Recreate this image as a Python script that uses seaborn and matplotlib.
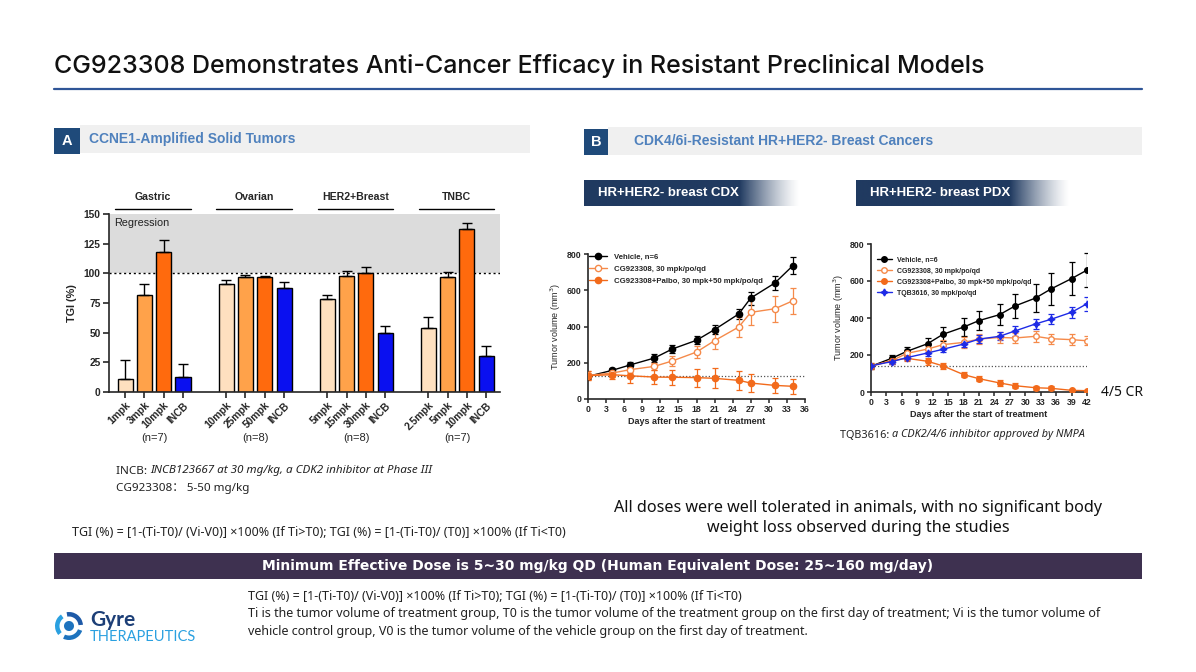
import numpy as np
import pandas as pd
import matplotlib
matplotlib.use("Agg")
import matplotlib.pyplot as plt
import seaborn as sns
from matplotlib.patches import Rectangle, Wedge

# ---------------- Panel A: TGI bars ----------------
tumor_types = ['Gastric', 'Ovarian', 'HER2+Breast', 'TNBC']
group_n = ['(n=7)', '(n=8)', '(n=8)', '(n=7)']
dose_levels = ['low', 'mid', 'high', 'INCB']

gastric_doses = ['1mpk', '3mpk', '10mpk', 'INCB']
gastric_tgi = [11, 82, 118, 13]
gastric_err = [16, 9, 10, 11]

ovarian_doses = ['10mpk', '25mpk', '50mpk', 'INCB']
ovarian_tgi = [91, 96.5, 96.5, 88]
ovarian_err = [3, 2.5, 1.5, 4.5]

her2_doses = ['5mpk', '15mpk', '30mpk', 'INCB']
her2_tgi = [78.5, 97.5, 100, 50]
her2_err = [3, 4.5, 5, 5.5]

tnbc_doses = ['2.5mpk', '5mpk', '10mpk', 'INCB']
tnbc_tgi = [54, 96.5, 137, 30]
tnbc_err = [9.5, 5, 5, 8.5]

# ---------------- Panel B: CDX ----------------
cdx_days = [0, 4, 7, 11, 14, 18, 21, 25, 27, 31, 34]
cdx_vehicle = [125, 158, 188, 226, 276, 324, 383, 469, 557, 640, 736]
cdx_vehicle_err = [15, 15, 18, 20, 20, 22, 25, 30, 36, 38, 45]
cdx_cg = [130, 143, 162, 180, 210, 259, 322, 397, 478, 498, 542]
cdx_cg_err = [25, 20, 20, 20, 30, 35, 45, 55, 72, 72, 72]
cdx_combo = [129, 134, 128, 121, 120, 118, 114, 103, 88, 75, 70]
cdx_combo_err = [25, 25, 38, 40, 40, 50, 55, 52, 50, 40, 40]
cdx_baseline = 128

# ---------------- Panel B: PDX ----------------
pdx_days = [0, 4, 7, 11, 14, 18, 21, 25, 28, 32, 35, 39, 42]
pdx_vehicle = [139, 182, 220, 261, 312, 351, 386, 418, 465, 508, 557, 613, 659]
pdx_vehicle_err = [15, 20, 25, 30, 38, 50, 52, 55, 65, 75, 85, 88, 92]
pdx_cg = [140, 169, 209, 232, 256, 268, 286, 295, 292, 301, 288, 283, 277]
pdx_cg_err = [15, 18, 20, 22, 25, 30, 28, 30, 25, 30, 28, 28, 25]
pdx_combo = [140, 169, 182, 166, 141, 94, 72, 49, 34, 23, 20, 9, 7]
pdx_combo_err = [15, 15, 15, 18, 18, 15, 15, 15, 12, 10, 10, 8, 6]
pdx_tqb = [142, 164, 186, 211, 231, 259, 286, 301, 330, 368, 393, 431, 477]
pdx_tqb_err = [12, 12, 12, 15, 15, 18, 22, 22, 25, 28, 28, 30, 38]
pdx_baseline = 138

series_labels = ['Vehicle, n=6', 'CG923308, 30 mpk/po/qd',
                 'CG923308+Palbo, 30 mpk+50 mpk/po/qd', 'TQB3616, 30 mpk/po/qd']

# ---------------- styling ----------------
W, H = 1196, 672
NAVY = '#1F4A7A'
BAR_COLORS = {'low': '#FEE0BF', 'mid': '#FFA24A', 'high': '#FF6A0D', 'INCB': '#0A10F0'}
C_VEH, C_CG, C_COMBO, C_TQB = 'black', '#F58A4A', '#F26A1B', '#1E2BE6'
CHART_FONT = 'Liberation Sans'
BODY = ['Noto Sans', 'Noto Sans CJK SC', 'DejaVu Sans']

sns.set_theme(style='ticks')
plt.rcParams['font.family'] = BODY
plt.rcParams['axes.linewidth'] = 1.2

fig = plt.figure(figsize=(W / 100, H / 100), dpi=100)
fig.patch.set_facecolor('white')

bg = fig.add_axes([0, 0, 1, 1], zorder=0)
bg.set_axis_off()


def px_axes(x0, y0, x1, y1):
    # pixel box (top-left origin) to figure fraction
    return [x0 / W, 1 - y1 / H, (x1 - x0) / W, (y1 - y0) / H]


# ---- slide decorations ----
bg.text(54, 66, 'CG923308 Demonstrates Anti-Cancer Efficacy in Resistant Preclinical Models',
        fontsize=18, family='Inter', weight='medium', color='#111111', va='center')
bg.plot([54, 1142], [89, 89], color='#2F5597', lw=1.6)

bg.add_patch(Rectangle((80, 125), 450, 28, color='#F0F0F0', lw=0))
bg.add_patch(Rectangle((54, 128), 26, 26, color=NAVY, lw=0))
bg.text(67, 141, 'A', color='white', weight='bold', fontsize=10.5, ha='center', va='center',
        family='Liberation Sans')
bg.text(89, 139, 'CCNE1-Amplified Solid Tumors', color='#4F81BD', weight='bold',
        fontsize=10, va='center', family='Liberation Sans')

bg.add_patch(Rectangle((608, 127), 534, 28, color='#F0F0F0', lw=0))
bg.add_patch(Rectangle((584, 129), 24, 26, color=NAVY, lw=0))
bg.text(596, 142, 'B', color='white', weight='bold', fontsize=10.5, ha='center', va='center',
        family='Liberation Sans')
bg.text(634, 141, 'CDK4/6i-Resistant HR+HER2- Breast Cancers', color='#4F81BD', weight='bold',
        fontsize=10, va='center', family='Liberation Sans')


def gradient_box(x0, x1, y0, y1, text):
    n = 256
    rgba = np.zeros((1, n, 4))
    rgba[..., :3] = matplotlib.colors.to_rgb('#203A60')
    alpha = np.ones(n)
    fade = np.linspace(0, 1, n) > 0.72
    alpha[fade] = np.linspace(1, 0, fade.sum()) ** 1.3
    rgba[..., 3] = alpha
    bg.imshow(rgba, extent=[x0, x1, y1, y0], aspect='auto', zorder=1)
    bg.text(x0 + 14, (y0 + y1) / 2, text, color='white', weight='bold', fontsize=9.5,
            va='center', family='Liberation Sans', zorder=2)


gradient_box(584, 800, 180, 206, 'HR+HER2- breast CDX')
gradient_box(856, 1070, 180, 206, 'HR+HER2- breast PDX')

# notes under panel A
t = bg.text(116, 471, 'INCB: ', fontsize=8.4, va='center', color='#222222')
bg.annotate('INCB123667 at 30 mg/kg, a CDK2 inhibitor at Phase III', xy=(1, 0.5), xycoords=t,
            fontsize=8.4, style='italic', va='center', color='#222222')
bg.text(116, 489, 'CG923308： 5-50 mg/kg', fontsize=8.4, va='center', color='#222222')

formula = 'TGI (%) = [1-(Ti-T0)/ (Vi-V0)] ×100% (If Ti>T0); TGI (%) = [1-(Ti-T0)/ (T0)] ×100% (If Ti<T0)'
bg.text(72, 533, formula, fontsize=9, va='center', color='#222222')

bg.text(858, 508, 'All doses were well tolerated in animals, with no significant body',
        fontsize=11.6, ha='center', va='center', color='#111111')
bg.text(858, 528, 'weight loss observed during the studies',
        fontsize=11.6, ha='center', va='center', color='#111111')

bg.add_patch(Rectangle((54, 553), 1088, 26, color='#3E3150', lw=0))
bg.text(598, 566, 'Minimum Effective Dose is 5~30 mg/kg QD (Human Equivalent Dose: 25~160 mg/day)',
        color='white', weight='bold', fontsize=10, ha='center', va='center', family='DejaVu Sans')

bg.text(248, 596, formula, fontsize=9, va='center', color='#222222')
bg.text(248, 614, 'Ti is the tumor volume of treatment group, T0 is the tumor volume of the treatment '
        'group on the first day of treatment; Vi is the tumor volume of',
        fontsize=9, va='center', color='#222222')
bg.text(248, 631, 'vehicle control group, V0 is the tumor volume of the vehicle group on the first day of treatment.',
        fontsize=9, va='center', color='#222222')

# logo
for ang, col in [(20, '#1E73BE'), (140, '#2AA0E0'), (260, '#1E5AA8')]:
    bg.add_patch(Wedge((69, 626), 14, ang, ang + 95, width=4.5, color=col, lw=0))
bg.add_patch(Wedge((69, 626), 5, 0, 360, color='#1E73BE', lw=0))
bg.text(90, 620, 'Gyre', fontsize=15, color='#1D3F77', weight='bold', va='center', family='Lato')
bg.text(90, 637, 'THERAPEUTICS', fontsize=10.5, color='#2AA0E0', va='center', family='Lato')

bg.text(1101, 392, '4/5 CR', fontsize=10, va='center', color='#111111')
t2 = bg.text(840, 435, 'TQB3616: ', fontsize=7.8, va='center', color='#222222')
bg.annotate('a CDK2/4/6 inhibitor approved by NMPA', xy=(1, 0.5), xycoords=t2,
            fontsize=7.8, style='italic', va='center', color='#222222')

bg.set_xlim(0, W)
bg.set_ylim(H, 0)

# ---------------- Panel A chart ----------------
GROUP_STEP = 5.23
groups = [(gastric_doses, gastric_tgi, gastric_err), (ovarian_doses, ovarian_tgi, ovarian_err),
          (her2_doses, her2_tgi, her2_err), (tnbc_doses, tnbc_tgi, tnbc_err)]
rows = []
for g, (doses, tgi, err) in enumerate(groups):
    for i in range(4):
        rows.append({'pos': g * GROUP_STEP + i, 'dose': doses[i], 'tgi': tgi[i],
                     'err': err[i], 'level': dose_levels[i], 'group': tumor_types[g]})
df_a = pd.DataFrame(rows)

ax_a = fig.add_axes(px_axes(109, 214, 500, 392), zorder=2)
ax_a.set_facecolor('none')
ax_a.axhspan(100, 150, color='#DCDCDC', lw=0, zorder=0)
ax_a.axhline(100, color='black', ls=(0, (1.5, 2)), lw=1, zorder=1)
sns.barplot(data=df_a, x='pos', y='tgi', hue='level', palette=BAR_COLORS, native_scale=True,
            dodge=False, width=0.78, saturation=1, edgecolor='black', linewidth=1,
            errorbar=None, legend=False, ax=ax_a, zorder=2)
ax_a.errorbar(df_a['pos'], df_a['tgi'], yerr=[np.zeros(len(df_a)), df_a['err']], fmt='none',
              ecolor='black', elinewidth=1, capsize=3.5, capthick=1, zorder=3)
ax_a.set_xlim(-0.83, 19.4)
ax_a.set_ylim(0, 150)
ax_a.set_yticks([0, 25, 50, 75, 100, 125, 150])
ax_a.set_xticks(df_a['pos'])
ax_a.set_xticklabels(df_a['dose'], rotation=45, ha='right', rotation_mode='anchor')
ax_a.set_xlabel('')
ax_a.set_ylabel('TGI (%)', fontsize=7.8, weight='bold', family=CHART_FONT, labelpad=5)
for lab in ax_a.get_xticklabels() + ax_a.get_yticklabels():
    lab.set_fontsize(7.4)
    lab.set_fontweight('bold')
    lab.set_family(CHART_FONT)
ax_a.tick_params(axis='both', length=4, width=1.2, pad=2)
sns.despine(ax=ax_a)
ax_a.text(0.012, 0.95, 'Regression', transform=ax_a.transAxes, fontsize=7.8, family=CHART_FONT,
          va='center', color='#222222')
trans = ax_a.get_xaxis_transform()
for g, name in enumerate(tumor_types):
    start = g * GROUP_STEP
    ax_a.plot([start - 0.5, start + 3.4], [1.03, 1.03], transform=trans, color='black',
              lw=1, clip_on=False)
    ax_a.text(start + 1.45, 1.095, name, transform=trans, ha='center', va='center',
              fontsize=7.6, weight='bold', family=CHART_FONT)
    ax_a.text(start + 1.5, -0.26, group_n[g], transform=trans, ha='center', va='center',
              fontsize=8, family=CHART_FONT)


# ---------------- growth curves ----------------
def style_growth(ax, xmax, xticks):
    ax.set_facecolor('none')
    ax.set_xlim(0, xmax)
    ax.set_ylim(0, 800)
    ax.set_xticks(xticks)
    ax.set_yticks([0, 200, 400, 600, 800])
    for lab in ax.get_xticklabels() + ax.get_yticklabels():
        lab.set_fontsize(6.3)
        lab.set_fontweight('bold')
        lab.set_family(CHART_FONT)
    ax.tick_params(axis='both', length=3, width=1.1, pad=1.5)
    ax.set_xlabel('Days after the start of treatment', fontsize=6.5, weight='bold',
                  family=CHART_FONT, labelpad=2)
    ax.set_ylabel('Tumor volume (mm$^3$)', fontsize=6.5, family=CHART_FONT, labelpad=3)
    sns.despine(ax=ax)


def add_series(ax, days, vals, err, color, label, marker='o', face=None, ms=4.5):
    sns.lineplot(x=days, y=vals, color=color, marker=marker, markersize=ms,
                 markerfacecolor=face if face else color, markeredgecolor=color,
                 markeredgewidth=1, lw=1, label=label, ax=ax, zorder=3)
    ax.errorbar(days, vals, yerr=err, fmt='none', ecolor=color, elinewidth=0.9,
                capsize=2.2, capthick=0.9, zorder=2)


ax_c = fig.add_axes(px_axes(588, 254, 805, 399), zorder=2)
ax_c.axhline(cdx_baseline, color='#555555', ls=(0, (1, 1.6)), lw=0.9, zorder=1)
add_series(ax_c, cdx_days, cdx_vehicle, cdx_vehicle_err, C_VEH, series_labels[0])
add_series(ax_c, cdx_days, cdx_cg, cdx_cg_err, C_CG, series_labels[1], face='white')
add_series(ax_c, cdx_days, cdx_combo, cdx_combo_err, C_COMBO, series_labels[2])
style_growth(ax_c, 36, range(0, 37, 3))
ax_c.legend(loc='upper left', frameon=False, handlelength=2.4, bbox_to_anchor=(-0.015, 1.03),
            borderaxespad=0.1, labelspacing=0.6,
            prop={'family': CHART_FONT, 'size': 5.6, 'weight': 'bold'})

ax_p = fig.add_axes(px_axes(871, 244, 1087, 392), zorder=2)
ax_p.axhline(pdx_baseline, color='#555555', ls=(0, (1, 1.6)), lw=0.9, zorder=1)
add_series(ax_p, pdx_days, pdx_vehicle, pdx_vehicle_err, C_VEH, series_labels[0], ms=4)
add_series(ax_p, pdx_days, pdx_cg, pdx_cg_err, C_CG, series_labels[1], face='white', ms=4)
add_series(ax_p, pdx_days, pdx_combo, pdx_combo_err, C_COMBO, series_labels[2], ms=4)
add_series(ax_p, pdx_days, pdx_tqb, pdx_tqb_err, C_TQB, series_labels[3], marker=(4, 1, 0), ms=5)
style_growth(ax_p, 42, range(0, 43, 3))
ax_p.legend(loc='upper left', frameon=False, handlelength=2.2, bbox_to_anchor=(0.01, 0.94),
            borderaxespad=0.1, labelspacing=0.6,
            prop={'family': CHART_FONT, 'size': 5, 'weight': 'bold'})

fig.savefig('out.png', dpi=100, facecolor='white')
